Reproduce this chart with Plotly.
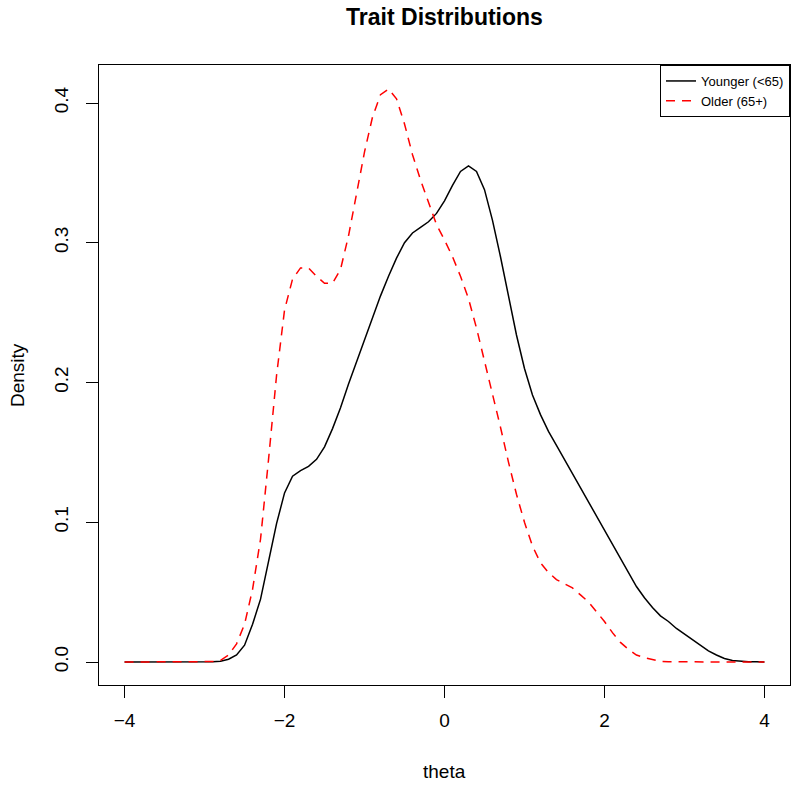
import plotly.graph_objects as go

theta = [round(-4.0 + 0.1 * i, 1) for i in range(81)]

younger = [
    0, 0, 0, 0, 0, 0, 0, 0, 0, 0, 0,            # -4.0 .. -3.0
    0.0002, 0.0006, 0.002, 0.005, 0.012, 0.027, 0.045, 0.072, 0.099, 0.121,   # -2.9 .. -2.0
    0.133, 0.137, 0.140, 0.145, 0.154, 0.167, 0.182, 0.199, 0.215, 0.231,     # -1.9 .. -1.0
    0.247, 0.262, 0.276, 0.289, 0.300, 0.307, 0.311, 0.315, 0.321, 0.330,     # -0.9 .. 0.0
    0.341, 0.351, 0.355, 0.351, 0.338, 0.316, 0.290, 0.262, 0.234, 0.210,     # 0.1 .. 1.0
    0.191, 0.177, 0.165, 0.155, 0.145, 0.134, 0.124, 0.114, 0.104, 0.094,     # 1.1 .. 2.0
    0.084, 0.074, 0.064, 0.054, 0.046, 0.039, 0.033, 0.029, 0.024, 0.020,     # 2.1 .. 3.0
    0.016, 0.012, 0.008, 0.005, 0.0025, 0.001, 0.0005, 0.0002, 0.0001, 0.0,   # 3.1 .. 4.0
]

older = [
    0, 0, 0, 0, 0, 0, 0, 0, 0, 0, 0,            # -4.0 .. -3.0
    0.0003, 0.0012, 0.005, 0.013, 0.027, 0.052, 0.088, 0.145, 0.205, 0.252,   # -2.9 .. -2.0
    0.274, 0.282, 0.282, 0.276, 0.271, 0.271, 0.281, 0.305, 0.335, 0.365,     # -1.9 .. -1.0
    0.390, 0.406, 0.410, 0.403, 0.385, 0.363, 0.345, 0.329, 0.313, 0.302,     # -0.9 .. 0.0
    0.290, 0.276, 0.260, 0.239, 0.216, 0.192, 0.168, 0.143, 0.120, 0.100,     # 0.1 .. 1.0
    0.083, 0.071, 0.064, 0.059, 0.056, 0.053, 0.048, 0.043, 0.036, 0.029,     # 1.1 .. 2.0
    0.021, 0.014, 0.009, 0.005, 0.003, 0.0015, 0.0005, 0.0002, 0.0001, 0,     # 2.1 .. 3.0
    0, 0, 0, 0, 0, 0, 0, 0, 0, 0,                                             # 3.1 .. 4.0
]

x_ticks = [-4, -2, 0, 2, 4]
y_ticks = [0.0, 0.1, 0.2, 0.3, 0.4]
y_tick_labels = ["0.0", "0.1", "0.2", "0.3", "0.4"]

FONT = "Liberation Sans, Arial, Helvetica, sans-serif"

fig = go.Figure()
fig.add_trace(go.Scatter(
    x=theta, y=younger, mode="lines", name="Younger (<65)",
    line=dict(color="black", width=1.5),
))
fig.add_trace(go.Scatter(
    x=theta, y=older, mode="lines", name="Older (65+)",
    line=dict(color="#FF0000", width=1.5, dash="9px,7px"),
))

fig.update_layout(
    width=800, height=785,
    margin=dict(l=99, r=10, t=65, b=100),
    paper_bgcolor="white", plot_bgcolor="white",
    font=dict(family=FONT, color="black", size=19),
    title=dict(text="<b>Trait Distributions</b>", x=(99 + 790) / 2 / 800, xanchor="center",
               y=1 - 17 / 785, yanchor="middle", font=dict(size=23, family=FONT)),
    showlegend=True,
    legend=dict(x=1, y=1, xanchor="right", yanchor="top",
                bordercolor="black", borderwidth=1, bgcolor="white",
                font=dict(size=13, family=FONT), itemwidth=30,
                tracegroupgap=0),
    xaxis=dict(range=[-4.32, 4.32], tickvals=x_ticks, ticks="outside", ticklen=12,
               tickcolor="black", showline=True, mirror=True, linecolor="black", linewidth=1,
               showgrid=False, zeroline=False, tickfont=dict(size=19), fixedrange=True,
               ticklabelstandoff=6),
    yaxis=dict(range=[-0.01646, 0.4272], tickvals=y_ticks, ticktext=y_tick_labels,
               ticks="outside", ticklen=12, tickangle=-90,
               tickcolor="black", showline=True, mirror=True, linecolor="black", linewidth=1,
               showgrid=False, zeroline=False, tickfont=dict(size=19), fixedrange=True,
               ticklabelstandoff=10),
    annotations=[
        dict(text="theta", xref="paper", yref="paper", x=0.5, y=-(771 - 685) / 620,
             xanchor="center", yanchor="middle", showarrow=False, font=dict(size=19)),
        dict(text="Density", xref="paper", yref="paper", x=-(99 - 17) / 691, y=0.5,
             xanchor="center", yanchor="middle", showarrow=False, textangle=-90,
             font=dict(size=19)),
    ],
)

fig.write_html("out.html", config={"displayModeBar": False},
               post_script="document.body.style.margin='0px';document.body.style.overflow='hidden';")
